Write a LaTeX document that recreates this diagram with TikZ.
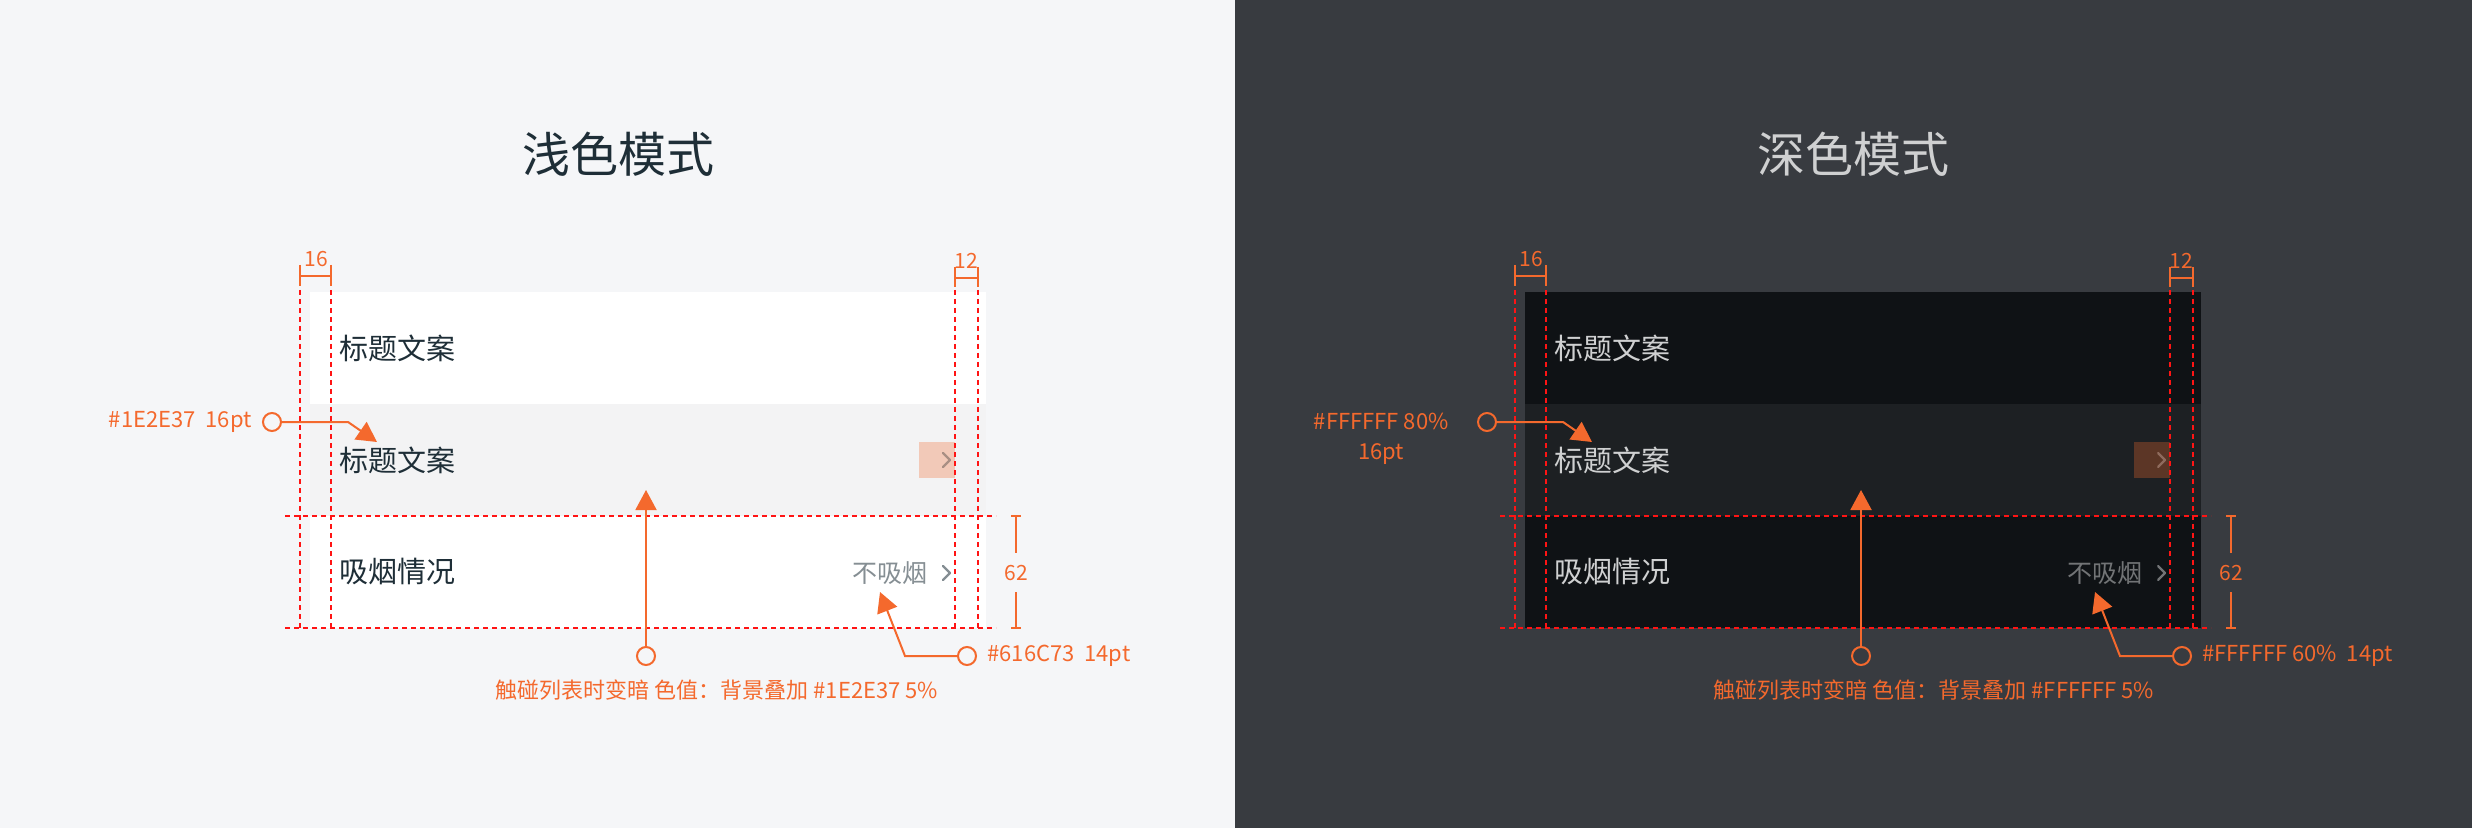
\documentclass[tikz,border=0pt]{standalone}
\usepackage{fontspec}
\setmainfont{Noto Sans CJK SC}
\usetikzlibrary{arrows.meta}
\usetikzlibrary{positioning}

\definecolor{lightbg}{HTML}{F5F6F8}
\definecolor{darkbg}{HTML}{383B40}
\definecolor{accent}{HTML}{F4692D}
\definecolor{guidered}{HTML}{FF1414}
\definecolor{ink}{HTML}{1E2E37}
\definecolor{subink}{HTML}{858E93}
\definecolor{pressrow}{HTML}{F3F3F4}
\definecolor{darkrow}{HTML}{0F1215}
\definecolor{darkpress}{HTML}{1D2023}
\definecolor{darkink}{HTML}{CFD0D1}
\definecolor{darksubink}{HTML}{727476}
\definecolor{lighttap}{HTML}{F2C9B8}
\definecolor{lighttapmark}{HTML}{A98F84}
\definecolor{darktap}{HTML}{5C3626}
\definecolor{darktapmark}{HTML}{8F6B5D}

\tikzset{
  guide/.style={draw=guidered, line width=1pt, dash pattern=on 2.5pt off 2pt},
  dimline/.style={draw=accent, line width=0.8pt},
  dimlabel/.style={text=accent, font=\fontsize{10.5pt}{10.5pt}\selectfont, inner sep=0pt},
  callout/.style={circle, draw=accent, line width=1pt, minimum size=9pt, inner sep=0pt},
  calloutarrow/.style={draw=accent, line width=1pt, -{Triangle[length=10pt, width=10.5pt]}},
  note/.style={text=accent, font=\fontsize{11pt}{15pt}\selectfont, inner sep=0pt},
  rowtext/.style={font=\fontsize{14.5pt}{14.5pt}\selectfont, inner sep=0pt, anchor=west},
  valuetext/.style={font=\fontsize{12.5pt}{12.5pt}\selectfont, inner sep=0pt, anchor=east},
  chevron/.style={line width=1.1pt, line cap=round, line join=round},
  title/.style={font=\fontsize{24pt}{24pt}\selectfont, inner sep=0pt}
}

\begin{document}
\begin{tikzpicture}[x=0.5pt, y=-0.5pt]
  \useasboundingbox (0,0) rectangle (2472,828);
  \fill[lightbg] (0,0) rectangle (1235,828);
  \fill[darkbg] (1235,0) rectangle (2472,828);

  \node[title, text=ink] (Ltitle) at (618,154) {浅色模式};
  \node[title, text=darkink] (Dtitle) at (1853,154) {深色模式};

  % light mode
  \begin{scope}
    \fill[white] (310,292) rectangle (986,404);
    \fill[pressrow] (310,404) rectangle (986,516);
    \fill[white] (310,516) rectangle (986,628);
    \fill[lighttap] (919,442) rectangle (955,478);
    \node[rowtext, text=ink] (Lrow1) at (339,348) {标题文案};
    \node[rowtext, text=ink] (Lrow2) at (339,460) {标题文案};
    \node[rowtext, text=ink] (Lrow3) at (339,572) {吸烟情况};
    \node[valuetext, text=subink] (Lvalue) at (928,573) {不吸烟};
    \draw[chevron, lighttapmark] (943,453) -- (950,460) -- (943,467);
    \draw[chevron, subink] (943,566) -- (950,573) -- (943,580);

    \draw[guide] (300,290) -- (300,628);
    \draw[guide] (331,290) -- (331,628);
    \draw[guide] (955,290) -- (955,628);
    \draw[guide] (978,290) -- (978,628);
    \draw[guide] (285,516) -- (996,516);
    \draw[guide] (285,628) -- (996,628);

    \draw[dimline] (300,265) -- (300,286) (300,276) -- (331,276) (331,265) -- (331,286);
    \node[dimlabel] (Lpad16) at (316,259) {16};
    \draw[dimline] (955,267) -- (955,287) (955,278) -- (978,278) (978,267) -- (978,287);
    \node[dimlabel] (Lpad12) at (966,261) {12};
    \draw[dimline] (1011,516) -- (1021,516) (1016,516) -- (1016,553)
      (1016,592) -- (1016,628) (1011,628) -- (1021,628);
    \node[dimlabel] (Lheight) at (1016,573) {62};

    \node[callout] (Lcirc1) at (272,422) {};
    \node[note, left=5pt of Lcirc1] (Lnote1) {\#1E2E37\ \ 16pt};
    \coordinate (Lbend1) at (348,422);
    \coordinate (Ltip1) at (377,442);
    \draw[calloutarrow] (Lcirc1) -- (Lbend1) -- (Ltip1);

    \node[callout] (Lcirc2) at (646,656) {};
    \coordinate (Ltip2) at (646,490);
    \draw[calloutarrow] (Lcirc2) -- (Ltip2);
    \node[note] (Lnote2) at (717,690) {触碰列表时变暗 色值：背景叠加 \#1E2E37 5\%};

    \node[callout] (Lcirc3) at (967,656) {};
    \node[note, right=5pt of Lcirc3] (Lnote3) {\#616C73\ \ 14pt};
    \coordinate (Lbend3) at (905,656);
    \coordinate (Ltip3) at (880,592);
    \draw[calloutarrow] (Lcirc3) -- (Lbend3) -- (Ltip3);
  \end{scope}

  % dark mode
  \begin{scope}[shift={(1215,0)}]
    \fill[darkrow] (310,292) rectangle (986,404);
    \fill[darkpress] (310,404) rectangle (986,516);
    \fill[darkrow] (310,516) rectangle (986,628);
    \fill[darktap] (919,442) rectangle (955,478);
    \node[rowtext, text=darkink] (Drow1) at (339,348) {标题文案};
    \node[rowtext, text=darkink] (Drow2) at (339,460) {标题文案};
    \node[rowtext, text=darkink] (Drow3) at (339,572) {吸烟情况};
    \node[valuetext, text=darksubink] (Dvalue) at (928,573) {不吸烟};
    \draw[chevron, darktapmark] (943,453) -- (950,460) -- (943,467);
    \draw[chevron, darksubink] (943,566) -- (950,573) -- (943,580);

    \draw[guide] (300,290) -- (300,628);
    \draw[guide] (331,290) -- (331,628);
    \draw[guide] (955,290) -- (955,628);
    \draw[guide] (978,290) -- (978,628);
    \draw[guide] (285,516) -- (996,516);
    \draw[guide] (285,628) -- (996,628);

    \draw[dimline] (300,265) -- (300,286) (300,276) -- (331,276) (331,265) -- (331,286);
    \node[dimlabel] (Dpad16) at (316,259) {16};
    \draw[dimline] (955,267) -- (955,287) (955,278) -- (978,278) (978,267) -- (978,287);
    \node[dimlabel] (Dpad12) at (966,261) {12};
    \draw[dimline] (1011,516) -- (1021,516) (1016,516) -- (1016,553)
      (1016,592) -- (1016,628) (1011,628) -- (1021,628);
    \node[dimlabel] (Dheight) at (1016,573) {62};

    \node[callout] (Dcirc1) at (272,422) {};
    \node[note, align=center, anchor=north east] (Dnote1) at (234,413) {\#FFFFFF 80\%\\16pt};
    \coordinate (Dbend1) at (348,422);
    \coordinate (Dtip1) at (377,442);
    \draw[calloutarrow] (Dcirc1) -- (Dbend1) -- (Dtip1);

    \node[callout] (Dcirc2) at (646,656) {};
    \coordinate (Dtip2) at (646,490);
    \draw[calloutarrow] (Dcirc2) -- (Dtip2);
    \node[note] (Dnote2) at (719,690) {触碰列表时变暗 色值：背景叠加 \#FFFFFF 5\%};

    \node[callout] (Dcirc3) at (967,656) {};
    \node[note, right=5pt of Dcirc3] (Dnote3) {\#FFFFFF 60\%\ \ 14pt};
    \coordinate (Dbend3) at (905,656);
    \coordinate (Dtip3) at (880,592);
    \draw[calloutarrow] (Dcirc3) -- (Dbend3) -- (Dtip3);
  \end{scope}
\end{tikzpicture}
\end{document}
